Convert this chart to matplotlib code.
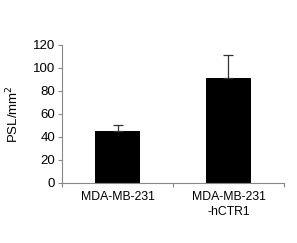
import matplotlib
matplotlib.use("Agg")
import matplotlib.pyplot as plt
import numpy as np

# Data
categories = ["MDA-MB-231", "MDA-MB-231\n-hCTR1"]
psl_values = [45, 91]
psl_errors = [5, 20]

plt.rcParams['font.family'] = ['Liberation Sans', 'DejaVu Sans']

fig = plt.figure(figsize=(2.97, 2.43), dpi=100)
ax = fig.add_axes([0.209, 0.247, 0.747, 0.568])

x = np.arange(len(categories))
ax.bar(x, psl_values, width=0.4, color='black', zorder=2)
ax.errorbar(x, psl_values, yerr=[np.zeros(len(psl_errors)), psl_errors],
            fmt='none', ecolor='#333333', elinewidth=0.9, capsize=3.5,
            capthick=0.9, zorder=3)

ax.set_xlim(-0.5, len(categories) - 0.5)
ax.set_ylim(0, 120)
ax.set_yticks(np.arange(0, 121, 20))
ax.set_xticks(x)
ax.set_xticklabels(categories, fontsize=8.8, linespacing=1.35)
ax.set_xticks(np.arange(-0.5, len(categories), 1.0), minor=True)
ax.tick_params(axis='x', which='major', length=0, pad=6)
ax.tick_params(axis='x', which='minor', length=3, color='#888888', width=0.8)
ax.tick_params(axis='y', length=3, color='#888888', width=0.8, labelsize=9.5, pad=2)
ax.set_ylabel('PSL/mm$^2$', fontsize=9.5, labelpad=8)

for s in ['top', 'right']:
    ax.spines[s].set_visible(False)
for s in ['left', 'bottom']:
    ax.spines[s].set_color('#888888')
    ax.spines[s].set_linewidth(0.8)

fig.savefig('out.png', dpi=100)
